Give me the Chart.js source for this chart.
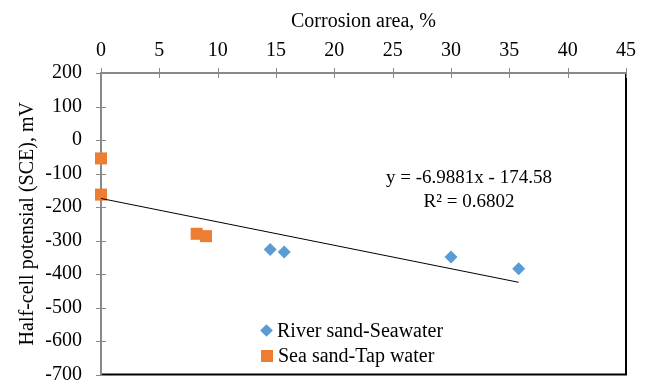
<!DOCTYPE html>
<html>
<head>
<meta charset="utf-8">
<script src="https://cdn.jsdelivr.net/npm/chart.js@4/dist/chart.umd.min.js"></script>
<style>
  body { margin: 0; background: #fff; }
  #wrap { position: relative; width: 648px; height: 383px; font-family: "Liberation Serif", serif; color: #000; }
  #eq { position: absolute; left: 369px; width: 200px; top: 165px; text-align: center; font-size: 19px; line-height: 24px; }
  #legend { position: absolute; left: 259px; top: 318px; font-size: 20px; line-height: 25px; }
  .item { display: flex; align-items: center; white-space: nowrap; }
  .mk { display: inline-block; margin-right: 4px; }
  .dia { width: 9px; height: 9px; margin: 0 6px 0 3px; background: #5B9BD5; transform: rotate(45deg); }
  .sq { width: 12px; height: 12px; margin: 0 5px 0 2px; background: #ED7D31; }
</style>
</head>
<body>
<div id="wrap">
  <canvas id="myChart" width="648" height="383"></canvas>
  <div id="eq">y = -6.9881x - 174.58<br>R² = 0.6802</div>
  <div id="legend">
    <div class="item"><span class="mk dia"></span>River sand-Seawater</div>
    <div class="item"><span class="mk sq"></span>Sea sand-Tap water</div>
  </div>
</div>
<script>
// corrosion area (%) vs half-cell potential (mV)
var riverX = [14.5, 15.7, 30.0, 35.8];
var riverY = [-327, -334, -349, -384];
var seaX = [0, 0, 8.2, 9.0];
var seaY = [-55, -163, -280, -287];
// linear trend end points
var trendX = [0, 35.8];
var trendY = [-174.58, -424.8];

var xMin = 0, xMax = 45, xStep = 5;
var yMin = -700, yMax = 200, yStep = 100;

function toPoints(xs, ys) {
    var pts = [];
    for (var i = 0; i < xs.length; i++) {
        pts.push({x: xs[i], y: ys[i]});
    }
    return pts;
}

// axis lines, crossing tick marks and the black right/bottom frame
var frame = {
    id: 'frame',
    beforeDatasetsDraw: function (chart) {
        var ctx = chart.ctx;
        var a = chart.chartArea;
        var xs = chart.scales.x, ys = chart.scales.y;
        ctx.save();
        ctx.strokeStyle = '#000';
        ctx.lineWidth = 2;
        ctx.beginPath();
        ctx.moveTo(a.right, a.top);
        ctx.lineTo(a.right, a.bottom);
        ctx.lineTo(a.left, a.bottom);
        ctx.stroke();

        ctx.strokeStyle = '#898989';
        ctx.lineWidth = 1;
        ctx.beginPath();
        xs.ticks.forEach(function (t) {
            var px = Math.round(xs.getPixelForValue(t.value)) + 0.5;
            ctx.moveTo(px, a.top - 5);
            ctx.lineTo(px, a.top + 5);
        });
        ys.ticks.forEach(function (t) {
            var py = Math.round(ys.getPixelForValue(t.value)) + 0.5;
            ctx.moveTo(a.left - 5, py);
            ctx.lineTo(a.left + 5, py);
        });
        ctx.stroke();

        ctx.lineWidth = 2;
        ctx.beginPath();
        ctx.moveTo(a.left, a.bottom + 1);
        ctx.lineTo(a.left, a.top);
        ctx.lineTo(a.right, a.top);
        ctx.stroke();
        ctx.restore();
    }
};

var ctx = document.getElementById('myChart').getContext('2d');
var chart = new Chart(ctx, {
    type: 'scatter',
    data: {
        datasets: [{
            label: 'River sand-Seawater',
            data: toPoints(riverX, riverY),
            pointStyle: 'rectRot',
            pointRadius: 6.5,
            backgroundColor: '#5B9BD5',
            borderWidth: 0,
            clip: false
        }, {
            label: 'Sea sand-Tap water',
            data: toPoints(seaX, seaY),
            pointStyle: 'rect',
            pointRadius: 8.5,
            backgroundColor: '#ED7D31',
            borderWidth: 0,
            clip: false
        }, {
            type: 'line',
            label: 'Linear',
            data: toPoints(trendX, trendY),
            borderColor: '#000',
            borderWidth: 1,
            pointRadius: 0,
            fill: false,
            order: -1
        }]
    },
    options: {
        responsive: false,
        animation: false,
        layout: { padding: { left: 0, top: 0, right: 22, bottom: 8 } },
        plugins: {
            legend: { display: false },
            tooltip: { enabled: false }
        },
        scales: {
            x: {
                type: 'linear',
                position: 'top',
                min: xMin,
                max: xMax,
                grid: { display: false },
                border: { display: false },
                ticks: {
                    stepSize: xStep,
                    color: '#000',
                    padding: 2,
                    font: { family: 'Liberation Serif', size: 20 }
                },
                title: {
                    display: true,
                    text: 'Corrosion area, %',
                    color: '#000',
                    padding: { top: 10, bottom: 0 },
                    font: { family: 'Liberation Serif', size: 20 }
                },
                afterFit: function (scale) {
                    scale.height = 73;
                    scale.paddingLeft = 0;
                    scale.paddingRight = 0;
                }
            },
            y: {
                min: yMin,
                max: yMax,
                grid: { display: false },
                border: { display: false },
                ticks: {
                    stepSize: yStep,
                    color: '#000',
                    padding: 11,
                    font: { family: 'Liberation Serif', size: 20 }
                },
                title: {
                    display: true,
                    text: 'Half-cell potensial (SCE), mV',
                    color: '#000',
                    padding: { top: 16, bottom: 0 },
                    font: { family: 'Liberation Serif', size: 20 }
                },
                afterFit: function (scale) {
                    scale.width = 101;
                    scale.paddingTop = 0;
                    scale.paddingBottom = 0;
                }
            }
        }
    },
    plugins: [frame]
});
</script>
</body>
</html>
